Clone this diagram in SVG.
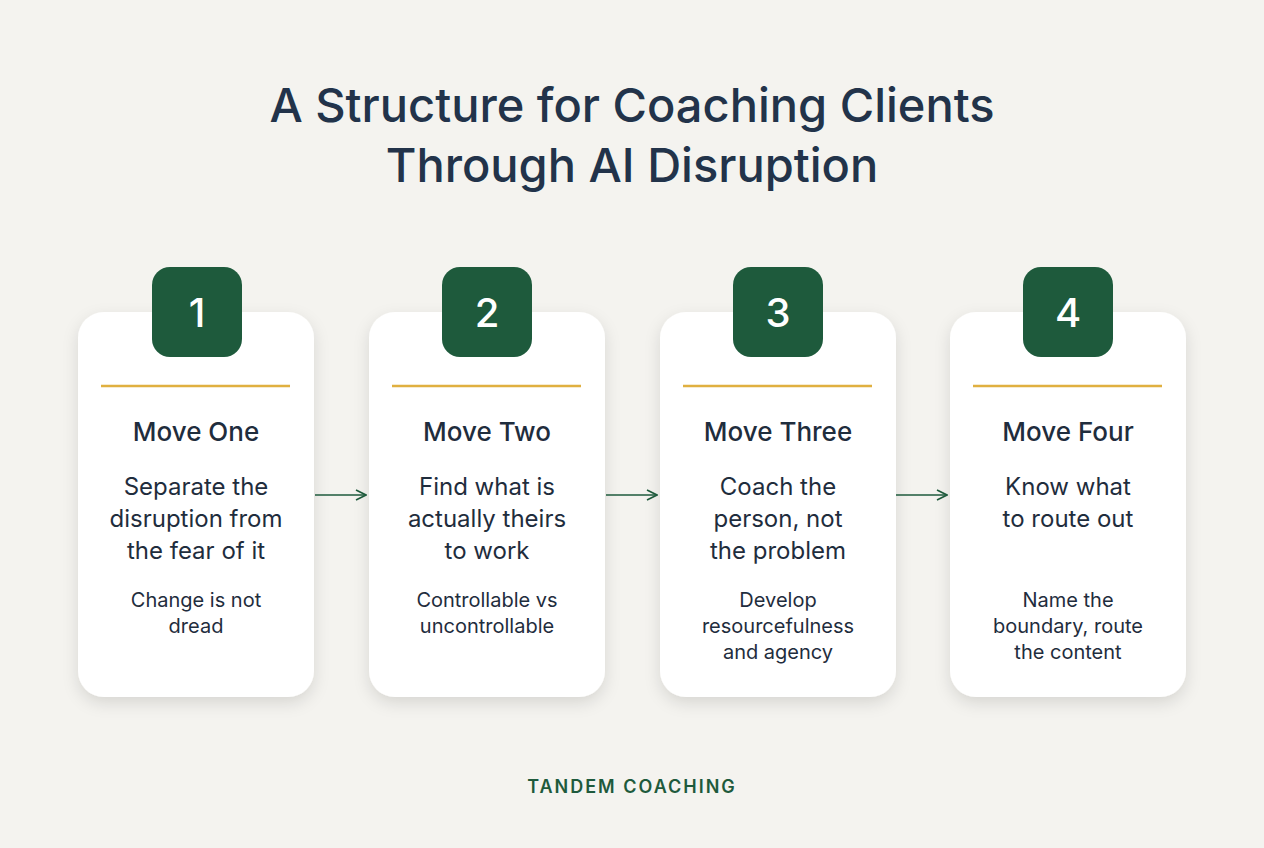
<svg xmlns="http://www.w3.org/2000/svg" width="1264" height="848" viewBox="0 0 1264 848">
<defs>
<filter id="sh" x="-20%" y="-20%" width="140%" height="140%"><feDropShadow dx="0" dy="6" stdDeviation="8" flood-color="#000" flood-opacity="0.12"/></filter>
<marker id="ar" viewBox="0 0 12 12" refX="11" refY="6" markerWidth="12" markerHeight="12" markerUnits="userSpaceOnUse" orient="auto"><path d="M1 1 L11 6 L1 11" fill="none" stroke="#1e5a3c" stroke-width="1.6"/></marker>
<style>
text{font-family:Inter,"Noto Sans",sans-serif;text-anchor:middle}
.card{fill:#fff;filter:url(#sh)}
.badge{fill:#1e5a3c}
.num{fill:#fff;font-size:40px;font-weight:500}
.gold{stroke:#e0b040;stroke-width:2.5}
.t{fill:#1f2d3d;font-size:26px;font-weight:500}
.b{fill:#1f2d3d;font-size:24px}
.s{fill:#1f2d3d;font-size:20px}
.c{stroke:#1e5a3c;stroke-width:1.6;fill:none}
</style>
</defs>
<rect width="1264" height="848" fill="#f4f3ef"/>
<text x="632" y="122" font-size="47" font-weight="500" fill="#22334a">A Structure for Coaching Clients</text>
<text x="632" y="182" font-size="47" font-weight="500" fill="#22334a">Through AI Disruption</text>
<g id="n1">
<rect class="card" x="78" y="312" width="236" height="385" rx="26"/>
<rect class="badge" x="152" y="267" width="90" height="90" rx="18"/>
<text class="num" x="197" y="327">1</text>
<line class="gold" x1="101" y1="386" x2="290" y2="386"/>
<text class="t" x="196" y="441">Move One</text>
<text class="b" x="196" y="495">Separate the</text><text class="b" x="196" y="527">disruption from</text><text class="b" x="196" y="559">the fear of it</text>
<text class="s" x="196" y="607">Change is not</text><text class="s" x="196" y="633">dread</text>
</g>
<g id="n2">
<rect class="card" x="369" y="312" width="236" height="385" rx="26"/>
<rect class="badge" x="442" y="267" width="90" height="90" rx="18"/>
<text class="num" x="487" y="327">2</text>
<line class="gold" x1="392" y1="386" x2="581" y2="386"/>
<text class="t" x="487" y="441">Move Two</text>
<text class="b" x="487" y="495">Find what is</text><text class="b" x="487" y="527">actually theirs</text><text class="b" x="487" y="559">to work</text>
<text class="s" x="487" y="607">Controllable vs</text><text class="s" x="487" y="633">uncontrollable</text>
</g>
<g id="n3">
<rect class="card" x="660" y="312" width="236" height="385" rx="26"/>
<rect class="badge" x="733" y="267" width="90" height="90" rx="18"/>
<text class="num" x="778" y="327">3</text>
<line class="gold" x1="683" y1="386" x2="872" y2="386"/>
<text class="t" x="778" y="441">Move Three</text>
<text class="b" x="778" y="495">Coach the</text><text class="b" x="778" y="527">person, not</text><text class="b" x="778" y="559">the problem</text>
<text class="s" x="778" y="607">Develop</text><text class="s" x="778" y="633">resourcefulness</text><text class="s" x="778" y="659">and agency</text>
</g>
<g id="n4">
<rect class="card" x="950" y="312" width="236" height="385" rx="26"/>
<rect class="badge" x="1023" y="267" width="90" height="90" rx="18"/>
<text class="num" x="1068" y="327">4</text>
<line class="gold" x1="973" y1="386" x2="1162" y2="386"/>
<text class="t" x="1068" y="441">Move Four</text>
<text class="b" x="1068" y="495">Know what</text><text class="b" x="1068" y="527">to route out</text>
<text class="s" x="1068" y="607">Name the</text><text class="s" x="1068" y="633">boundary, route</text><text class="s" x="1068" y="659">the content</text>
</g>
<g id="connectors">
<line class="c" x1="315" y1="495" x2="366" y2="495" marker-end="url(#ar)"/>
<line class="c" x1="606" y1="495" x2="657" y2="495" marker-end="url(#ar)"/>
<line class="c" x1="896" y1="495" x2="947" y2="495" marker-end="url(#ar)"/>
</g>
<text x="632" y="793" font-size="18" font-weight="600" letter-spacing="2" fill="#1e5a3c">TANDEM COACHING</text>
</svg>
